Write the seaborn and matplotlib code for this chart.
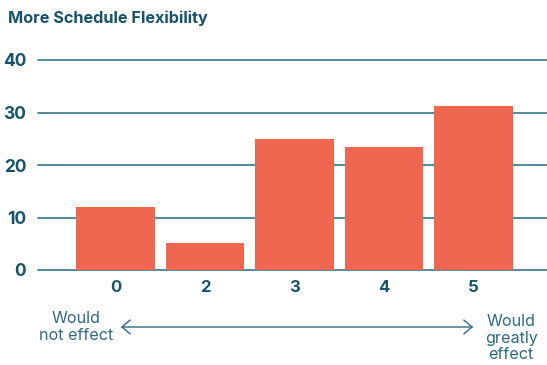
import matplotlib
matplotlib.use("Agg")
import matplotlib.pyplot as plt
from matplotlib.patches import FancyArrowPatch
import seaborn as sns
import pandas as pd

# Survey responses: effect of more schedule flexibility (rating scale)
ratings = ["0", "2", "3", "4", "5"]
shares = [12.0, 5.2, 25.0, 23.4, 31.2]
y_ticks = [0, 10, 20, 30, 40]

title = "More Schedule Flexibility"
low_label = "Would\nnot effect"
high_label = "Would\ngreatly\neffect"

bar_color = "#EF6751"
text_color = "#17536B"
grid_color = "#4F8A9C"
note_color = "#2E6A80"

sns.set_theme(style="white")
plt.rcParams["font.family"] = ["Inter", "DejaVu Sans"]

df = pd.DataFrame({"rating": ratings, "share": shares})

W, H = 547, 365
fig = plt.figure(figsize=(W / 100, H / 100), dpi=100)
ax = fig.add_axes([38 / W, 1 - 270 / H, 1 - 38 / W, 210 / H])

for t in y_ticks:
    ax.axhline(t, color=grid_color, lw=1.4, zorder=0, clip_on=False)

sns.barplot(data=df, x="rating", y="share", order=ratings, color=bar_color,
            width=0.88, saturation=1, linewidth=0, ax=ax, zorder=2)

ax.set_xlim(-0.866, 4.821)
ax.set_ylim(0, 40)
ax.set_yticks(y_ticks)
ax.set_yticklabels([str(t) for t in y_ticks], fontsize=12.5, fontweight="bold",
                   color=text_color)
ax.set_xticks(range(len(ratings)))
ax.set_xticklabels(ratings, fontsize=12, fontweight="bold", color=text_color)
ax.tick_params(axis="y", length=0, pad=8.5)
ax.tick_params(axis="x", length=0, pad=7.5)
ax.set_xlabel("")
ax.set_ylabel("")
for s in ax.spines.values():
    s.set_visible(False)

fig.text(8 / W, 1 - 18 / H, title, fontsize=11.7, fontweight="bold",
         color=text_color, va="center", ha="left")

fig.text(76 / W, 1 - 327 / H, low_label, fontsize=11.6, color=note_color,
         ha="center", va="center", linespacing=1.1)
fig.text(511 / W, 1 - 338 / H, high_label, fontsize=11.6, color=note_color,
         ha="center", va="center", linespacing=1.1)
fig.patches.append(FancyArrowPatch(
    (118 / W, 1 - 327 / H), (476 / W, 1 - 327 / H),
    transform=fig.transFigure, arrowstyle="<->,head_length=6,head_width=5",
    color=note_color, lw=1.0, mutation_scale=1))

fig.savefig("out.png", dpi=100)
